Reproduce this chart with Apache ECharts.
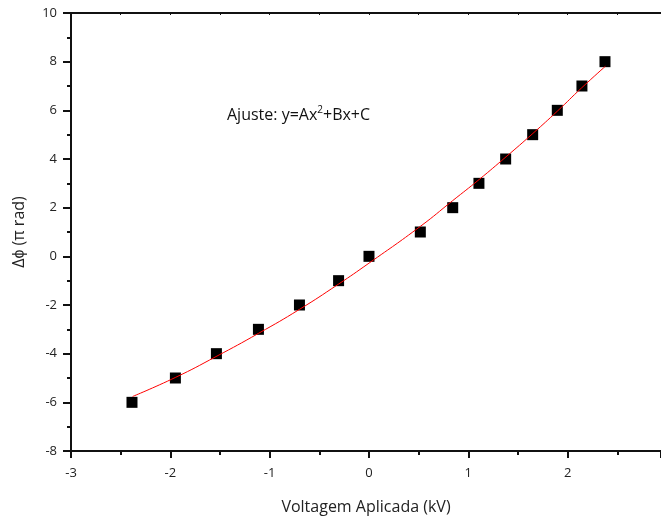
<!DOCTYPE html>
<html>
<head>
<meta charset="utf-8">
<script src="https://cdn.jsdelivr.net/npm/echarts@6/dist/echarts.min.js"></script>
<style>
  html, body { margin: 0; padding: 0; background: #fff; }
  #chart { width: 661px; height: 519px; }
</style>
</head>
<body>
<div id="chart"></div>
<script>
// medidas
var voltX = [-2.386, -1.949, -1.536, -1.113, -0.70, -0.306, 0, 0.517, 0.843, 1.107, 1.376, 1.648, 1.896, 2.144, 2.376];
var phaseY = [-6, -5, -4, -3, -2, -1, 0, 1, 2, 3, 4, 5, 6, 7, 8];
// curva de ajuste
var fitX = [-2.38, -1.95, -1.54, -1.11, -0.70, -0.31, 0, 0.52, 0.84, 1.11, 1.38, 1.65, 1.90, 2.14, 2.38];
var fitY = [-5.76, -4.98, -4.12, -3.16, -2.18, -1.15, -0.28, 1.24, 2.28, 3.16, 4.09, 5.05, 5.98, 6.92, 7.81];

var fontFam = '"Open Sans", sans-serif';

var chart = echarts.init(document.getElementById('chart'));

var option = {
    animation: false,
    textStyle: { fontFamily: fontFam },
    grid: { left: 71, top: 13, right: 0, bottom: 68, outerBoundsMode: 'none', containLabel: false },
    xAxis: [{
        type: 'value',
        min: -3,
        max: 2.94,
        interval: 1,
        position: 'bottom',
        name: 'Voltagem Aplicada (kV)',
        nameLocation: 'middle',
        nameGap: 48,
        nameTextStyle: { fontSize: 16, color: '#222', fontFamily: fontFam },
        axisLine: { onZero: false, lineStyle: { color: '#111', width: 2 } },
        axisTick: { length: 7, lineStyle: { color: '#111', width: 2 } },
        minorTick: { show: true, splitNumber: 2, length: 4, lineStyle: { color: '#111', width: 2 } },
        axisLabel: {
            margin: 16, fontSize: 13, color: '#222', fontFamily: fontFam,
            showMaxLabel: false,
            formatter: function (v) { return String(v); }
        },
        splitLine: { show: false }
    }, {
        type: 'value',
        min: -3,
        max: 2.94,
        interval: 1,
        position: 'top',
        axisLine: { onZero: false, lineStyle: { color: '#111', width: 2 } },
        axisTick: { inside: true, length: 2, lineStyle: { color: '#111', width: 1 } },
        minorTick: { show: true, splitNumber: 2, length: 2, lineStyle: { color: '#111', width: 1 } },
        axisLabel: { show: false },
        splitLine: { show: false }
    }],
    yAxis: {
        type: 'value',
        min: -8,
        max: 10,
        interval: 2,
        name: 'Δϕ (π rad)',
        nameLocation: 'middle',
        nameGap: 44,
        nameTextStyle: { fontSize: 16, color: '#222', fontFamily: fontFam },
        axisLine: { onZero: false, lineStyle: { color: '#111', width: 2 } },
        axisTick: { length: 8, lineStyle: { color: '#111', width: 2 } },
        minorTick: { show: true, splitNumber: 2, length: 4, lineStyle: { color: '#111', width: 2 } },
        axisLabel: { margin: 14, fontSize: 13, color: '#222', fontFamily: fontFam },
        splitLine: { show: false }
    },
    graphic: [{
        type: 'text',
        left: 227,
        top: 105,
        style: {
            text: 'Ajuste: y=Ax{sup|2}+Bx+C',
            fontSize: 16,
            fontFamily: fontFam,
            fill: '#111',
            rich: {
                sup: { fontSize: 10, verticalAlign: 'top', padding: [0, 0, 10, 0], fontFamily: fontFam, fill: '#111' }
            }
        }
    }],
    series: [{
        name: 'ajuste',
        type: 'line',
        data: fitX.map(function (x, i) { return [x, fitY[i]]; }),
        smooth: true,
        showSymbol: false,
        lineStyle: { color: '#ff0000', width: 1 },
        z: 3
    }, {
        name: 'dados',
        type: 'scatter',
        data: voltX.map(function (x, i) { return [x, phaseY[i]]; }),
        symbol: 'rect',
        symbolSize: 11,
        itemStyle: { color: '#000', opacity: 1 },
        z: 2
    }]
};

chart.setOption(option);
</script>
</body>
</html>
